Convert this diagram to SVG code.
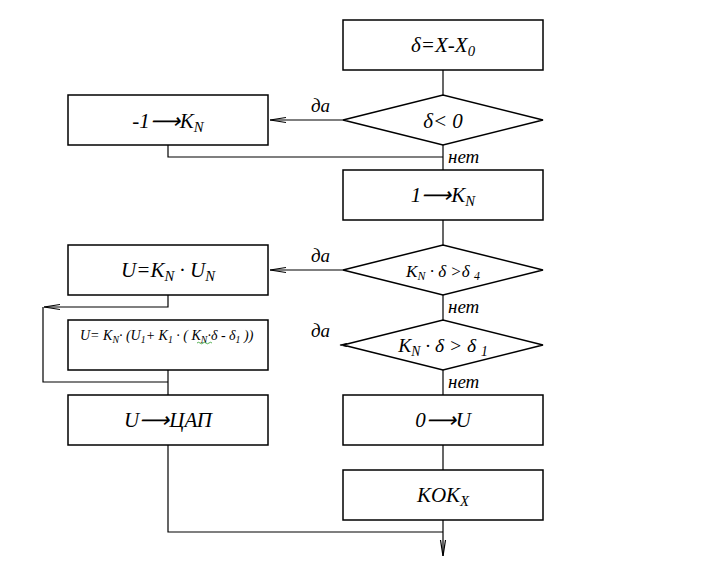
<svg xmlns="http://www.w3.org/2000/svg" width="704" height="571" viewBox="0 0 704 571">
<style>
.b{fill:#fff;stroke:#000;stroke-width:1.5}
.c{fill:none;stroke:#000;stroke-width:1.2}
.f{font-family:"Liberation Serif","Times New Roman",Times,serif;font-style:italic;font-weight:400}
.t{font-size:21px;text-anchor:middle}
.l{font-size:19px}
.s{font-size:70%;baseline-shift:-25%}
</style>
<defs>
<marker id="a" markerWidth="16" markerHeight="8" refX="16" refY="4" orient="auto" markerUnits="userSpaceOnUse">
<path d="M0,1.5 L16,4 L0,6.5" fill="none" stroke="#000" stroke-width="1.2"/>
</marker>
</defs>
<rect width="704" height="571" fill="#fff"/>
<g id="connectors">
<line class="c" x1="443" y1="70" x2="443" y2="95"/>
<line class="c" x1="343" y1="120" x2="270" y2="120" marker-end="url(#a)"/>
<polyline class="c" points="168,145 168,157 443,157"/>
<line class="c" x1="443" y1="145" x2="443" y2="170"/>
<line class="c" x1="443" y1="220" x2="443" y2="245"/>
<line class="c" x1="343" y1="270" x2="270" y2="270" marker-end="url(#a)"/>
<line class="c" x1="443" y1="295" x2="443" y2="320"/>
<polyline class="c" points="347,343.5 340,345 347,346.5" stroke-width="1"/>
<polyline class="c" points="168,295 168,307 44,307" marker-end="url(#a)"/>
<polyline class="c" points="43,307 43,382 168,382"/>
<line class="c" x1="168" y1="370" x2="168" y2="395"/>
<line class="c" x1="443" y1="370" x2="443" y2="395"/>
<line class="c" x1="443" y1="445" x2="443" y2="470"/>
<polyline class="c" points="168,445 168,532 443,532"/>
<line class="c" x1="443" y1="520" x2="443" y2="556" marker-end="url(#a)"/>
</g>
<g id="labels">
<text class="f l" x="311" y="112">да</text>
<text class="f l" x="448" y="163">нет</text>
<text class="f l" x="311" y="262">да</text>
<text class="f l" x="448" y="313">нет</text>
<text class="f l" x="311" y="337">да</text>
<text class="f l" x="448" y="388">нет</text>
</g>
<g id="n1"><rect class="b" x="343" y="20" width="200" height="50"/>
<text class="f t" x="443" y="52">δ=X-X<tspan class="s">0</tspan></text></g>
<g id="n2"><polygon class="b" points="343,120 443,95 543,120 443,145"/>
<text class="f t" x="443" y="128">δ&lt; 0</text></g>
<g id="n3"><rect class="b" x="68" y="95" width="200" height="50"/>
<text class="f t" x="168" y="128">-1⟶K<tspan class="s">N</tspan></text></g>
<g id="n4"><rect class="b" x="343" y="170" width="200" height="50"/>
<text class="f t" x="443" y="202">1⟶K<tspan class="s">N</tspan></text></g>
<g id="n5"><polygon class="b" points="343,270 443,245 543,270 443,295"/>
<text class="f" x="443" y="277" font-size="17" text-anchor="middle">K<tspan class="s">N</tspan> · δ &gt;δ <tspan class="s">4</tspan></text></g>
<g id="n6"><rect class="b" x="68" y="245" width="200" height="50"/>
<text class="f t" x="168" y="277">U=K<tspan class="s">N</tspan> · U<tspan class="s">N</tspan></text></g>
<g id="n7"><polygon class="b" points="343,345 443,320 543,345 443,370"/>
<text class="f" x="443" y="352" font-size="19.5" text-anchor="middle">K<tspan class="s">N</tspan> · δ &gt; δ <tspan class="s">1</tspan></text></g>
<g id="n8"><rect class="b" x="68" y="320" width="200" height="50"/>
<text class="f" x="80" y="340" font-size="14">U= K<tspan class="s">N</tspan>·  (U<tspan class="s">1</tspan>+ K<tspan class="s">1</tspan> · ( K<tspan class="s">N</tspan>·δ - δ<tspan class="s">1</tspan> ))</text>
<path d="M197,343 q1.5,-1.5 3,0 t3,0 t3,0 t3,0 t3,0" fill="none" stroke="#2a9d2a" stroke-width="0.8"/></g>
<g id="n9"><rect class="b" x="68" y="395" width="200" height="50"/>
<text class="f t" x="168" y="427">U⟶ЦАП</text></g>
<g id="n10"><rect class="b" x="343" y="395" width="200" height="50"/>
<text class="f t" x="443" y="427">0⟶U</text></g>
<g id="n11"><rect class="b" x="343" y="470" width="200" height="50"/>
<text class="f t" x="443" y="502">KOK<tspan class="s">X</tspan></text></g>
</svg>
